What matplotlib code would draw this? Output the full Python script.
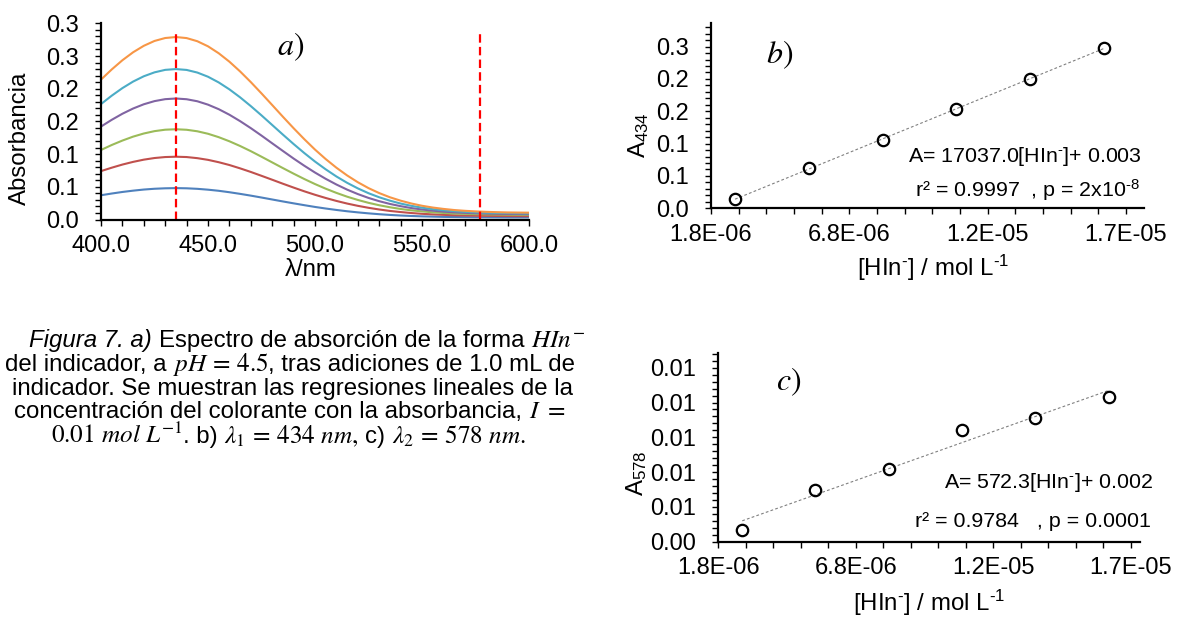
import numpy as np
import matplotlib
matplotlib.use("Agg")
import matplotlib.pyplot as plt
from matplotlib.ticker import FixedLocator, FixedFormatter

plt.rcParams['font.family'] = ['Liberation Sans', 'DejaVu Sans']
plt.rcParams['mathtext.fontset'] = 'custom'
plt.rcParams['mathtext.rm'] = 'Liberation Sans'
plt.rcParams['mathtext.it'] = 'Liberation Sans:italic'
plt.rcParams['mathtext.bf'] = 'Liberation Sans:bold'

# ---------------- data ----------------
wavelength = [400, 405, 410, 415, 420, 425, 430, 435, 440, 445, 450, 455, 460, 465,
              470, 475, 480, 485, 490, 495, 500, 505, 510, 515, 520, 525, 530, 535,
              540, 545, 550, 555, 560, 565, 570, 575, 580, 585, 590, 595, 600]
abs_1 = [0.0371, 0.0397, 0.0421, 0.0441, 0.0458, 0.0470, 0.0477, 0.0480, 0.0477, 0.0469,
         0.0456, 0.0439, 0.0417, 0.0392, 0.0365, 0.0336, 0.0306, 0.0276, 0.0247, 0.0219,
         0.0192, 0.0168, 0.0146, 0.0126, 0.0109, 0.0094, 0.0081, 0.0070, 0.0061, 0.0054,
         0.0048, 0.0044, 0.0040, 0.0038, 0.0036, 0.0034, 0.0033, 0.0032, 0.0031, 0.0031, 0.0031]
abs_2 = [0.0740, 0.0792, 0.0840, 0.0881, 0.0915, 0.0940, 0.0955, 0.0960, 0.0955, 0.0938,
         0.0912, 0.0876, 0.0833, 0.0782, 0.0727, 0.0668, 0.0608, 0.0547, 0.0488, 0.0431,
         0.0378, 0.0329, 0.0284, 0.0244, 0.0209, 0.0179, 0.0153, 0.0131, 0.0114, 0.0099,
         0.0087, 0.0078, 0.0071, 0.0065, 0.0061, 0.0058, 0.0056, 0.0054, 0.0053, 0.0052, 0.0051]
abs_3 = [0.1063, 0.1139, 0.1207, 0.1267, 0.1315, 0.1351, 0.1373, 0.1380, 0.1372, 0.1349,
         0.1311, 0.1259, 0.1196, 0.1124, 0.1045, 0.0960, 0.0873, 0.0786, 0.0701, 0.0619,
         0.0542, 0.0471, 0.0407, 0.0349, 0.0299, 0.0255, 0.0218, 0.0187, 0.0161, 0.0140,
         0.0124, 0.0110, 0.0100, 0.0092, 0.0086, 0.0082, 0.0078, 0.0076, 0.0074, 0.0073, 0.0072]
abs_4 = [0.1421, 0.1524, 0.1617, 0.1697, 0.1762, 0.1810, 0.1840, 0.1850, 0.1839, 0.1808,
         0.1756, 0.1687, 0.1602, 0.1504, 0.1397, 0.1283, 0.1165, 0.1048, 0.0932, 0.0822,
         0.0718, 0.0622, 0.0535, 0.0457, 0.0389, 0.0330, 0.0280, 0.0238, 0.0204, 0.0175,
         0.0153, 0.0135, 0.0121, 0.0110, 0.0102, 0.0096, 0.0091, 0.0088, 0.0085, 0.0084, 0.0082]
abs_5 = [0.1765, 0.1893, 0.2009, 0.2109, 0.2190, 0.2250, 0.2288, 0.2300, 0.2287, 0.2247,
         0.2183, 0.2096, 0.1990, 0.1868, 0.1734, 0.1592, 0.1445, 0.1298, 0.1154, 0.1016,
         0.0886, 0.0767, 0.0658, 0.0561, 0.0476, 0.0402, 0.0340, 0.0288, 0.0244, 0.0209,
         0.0181, 0.0158, 0.0141, 0.0127, 0.0117, 0.0109, 0.0104, 0.0100, 0.0097, 0.0095, 0.0093]
abs_6 = [0.2139, 0.2294, 0.2435, 0.2557, 0.2656, 0.2730, 0.2775, 0.2790, 0.2774, 0.2726,
         0.2648, 0.2542, 0.2413, 0.2264, 0.2101, 0.1928, 0.1750, 0.1571, 0.1396, 0.1228,
         0.1069, 0.0924, 0.0792, 0.0674, 0.0570, 0.0480, 0.0404, 0.0340, 0.0288, 0.0245,
         0.0210, 0.0183, 0.0162, 0.0145, 0.0133, 0.0124, 0.0117, 0.0112, 0.0108, 0.0106, 0.0104]
spectra = [abs_1, abs_2, abs_3, abs_4, abs_5, abs_6]
spectra_colors = ['#4F81BD', '#C0504D', '#9BBB59', '#8064A2', '#4BACC6', '#F79646']
marker_wavelengths = [435, 577]
marker_top = 0.29

conc = [2.67e-6, 5.33e-6, 8.00e-6, 10.67e-6, 13.33e-6, 16.00e-6]
A434 = [0.0464, 0.0939, 0.1377, 0.1856, 0.2315, 0.2805]
A578 = [0.0031, 0.0054, 0.0066, 0.0088, 0.0095, 0.0107]

a_xticks = [400, 450, 500, 550, 600]
a_xticklabels = ['400.0', '450.0', '500.0', '550.0', '600.0']
a_yticklabels = ['0.0', '0.1', '0.1', '0.2', '0.2', '0.3', '0.3']
conc_xticklabels = ['1.8E-06', '6.8E-06', '1.2E-05', '1.7E-05']
b_yticklabels = ['0.0', '0.1', '0.1', '0.2', '0.2', '0.3']
c_yticklabels = ['0.00', '0.01', '0.01', '0.01', '0.01', '0.01']

HY = '\u2010'  # short hyphen used in the superscripts
eq_b = ["A= 17037.0[HIn$^{" + HY + "}$]+ 0.003", "r\u00b2 = 0.9997  , p = 2x10$^{" + HY + "8}$"]
eq_c = ["A= 572.3[HIn$^{" + HY + "}$]+ 0.002", "r\u00b2 = 0.9784   , p = 0.0001"]
conc_xlabel = "[HIn$^{" + HY + "}$] / mol L$^{" + HY + "1}$"

# ---------------- layout ----------------
W, H = 1180, 618
fig = plt.figure(figsize=(W / 100, H / 100), dpi=100)
fig.patch.set_facecolor('white')


def fx(px):
    return px / W


def fy(py):
    return 1 - py / H


def axes_px(left, top, right, bottom):
    return fig.add_axes([fx(left), fy(bottom), (right - left) / W, (bottom - top) / H])


TICK_FS = 17
LABEL_FS = 17.3


def style_axes(ax):
    for s in ['top', 'right']:
        ax.spines[s].set_visible(False)
    for s in ['left', 'bottom']:
        ax.spines[s].set_linewidth(1.6)
        ax.spines[s].set_color('black')
    ax.tick_params(which='both', direction='out', length=4.2, width=1.0, color='black',
                   labelsize=TICK_FS)
    ax.tick_params(axis='x', which='both', pad=7.0)
    ax.tick_params(axis='y', which='both', pad=11.5)
    ax.set_facecolor('none')


# ---- panel a ----
axa = axes_px(101, 23.3, 529, 219.5)
style_axes(axa)
for ys, col in zip(spectra, spectra_colors):
    axa.plot(wavelength, ys, color=col, lw=1.5, solid_joinstyle='round')
for wl in marker_wavelengths:
    axa.plot([wl, wl], [0, marker_top], color='#FF0000', lw=1.6, dashes=(3.8, 1.9))
axa.set_xlim(400, 600)
axa.set_ylim(0, 0.3)
axa.xaxis.set_major_locator(FixedLocator(a_xticks))
axa.xaxis.set_major_formatter(FixedFormatter(a_xticklabels))
axa.xaxis.set_minor_locator(FixedLocator(np.arange(400, 601, 10)))
axa.yaxis.set_major_locator(FixedLocator(np.linspace(0, 0.3, 7)))
axa.yaxis.set_major_formatter(FixedFormatter(a_yticklabels))
axa.yaxis.set_minor_locator(FixedLocator(np.linspace(0, 0.3, 31)))
axa.set_xlabel('\u03bb/nm', fontsize=LABEL_FS)
axa.set_ylabel('Absorbancia', fontsize=LABEL_FS)
axa.xaxis.label.set(va='center', ha='center')
axa.yaxis.label.set(va='center', ha='center')
axa.xaxis.set_label_coords(0.49, -0.257)
axa.yaxis.set_label_coords(-0.189, 0.415)


def regression_axes(ax, x, y, ymin, ymax, ystep, yminor, ylabels, xmax):
    style_axes(ax)
    x = np.asarray(x)
    y = np.asarray(y)
    m, b = np.polyfit(x, y, 1)
    xx = np.array([x.min(), x.max()])
    ax.plot(xx, m * xx + b, color='#808080', lw=0.8, dashes=(2.5, 2.0), zorder=2)
    ax.plot(x, y, linestyle='none', marker='o', markersize=8.2, markeredgewidth=1.6,
            markerfacecolor='none', markeredgecolor='black', zorder=3, clip_on=False)
    ax.set_xlim(1.8e-6, xmax)
    ax.set_ylim(ymin, ymax)
    ax.xaxis.set_major_locator(FixedLocator([1.8e-6 + 5e-6 * k for k in range(4)]))
    ax.xaxis.set_major_formatter(FixedFormatter(conc_xticklabels))
    ax.xaxis.set_minor_locator(FixedLocator([1.8e-6 + 1e-6 * k for k in range(16)]))
    nmaj = len(ylabels)
    ax.yaxis.set_major_locator(FixedLocator([ymin + ystep * k for k in range(nmaj)]))
    ax.yaxis.set_major_formatter(FixedFormatter(ylabels))
    nmin = int(np.floor((ymax - ymin) / yminor + 1e-6)) + 1
    ax.yaxis.set_minor_locator(FixedLocator([ymin + yminor * k for k in range(nmin)]))


# ---- panel b ----
axb = axes_px(711, 22.7, 1144, 208.3)
regression_axes(axb, conc, A434, 0.032, 0.319, 0.05, 0.01, b_yticklabels, 17.45e-6)
axb.set_xlabel(conc_xlabel, fontsize=LABEL_FS)
axb.set_ylabel('A$_{434}$', fontsize=LABEL_FS)
axb.xaxis.label.set(va='center', ha='center')
axb.yaxis.label.set(va='center', ha='center')
axb.xaxis.set_label_coords(0.513, -0.319)
axb.yaxis.set_label_coords(-0.167, 0.395)

# ---- panel c ----
axc = axes_px(718.3, 353.3, 1140, 541.7)
regression_axes(axc, conc, A578, 0.0024, 0.01323, 0.002, 0.0004, c_yticklabels, 17.13e-6)
axc.set_xlabel(conc_xlabel, fontsize=LABEL_FS)
axc.set_ylabel('A$_{578}$', fontsize=LABEL_FS)
axc.xaxis.label.set(va='center', ha='center')
axc.yaxis.label.set(va='center', ha='center')
axc.xaxis.set_label_coords(0.4996, -0.323)
axc.yaxis.set_label_coords(-0.193, 0.363)

# ---- regression equations ----
EQ_FS = 15.4
fig.text(fx(1141.7), fy(161.7), eq_b[0], fontsize=EQ_FS, ha='right', va='baseline')
fig.text(fx(1140), fy(196.7), eq_b[1], fontsize=EQ_FS, ha='right', va='baseline')
fig.text(fx(1153), fy(488.3), eq_c[0], fontsize=EQ_FS, ha='right', va='baseline')
fig.text(fx(1151), fy(526.7), eq_c[1], fontsize=EQ_FS, ha='right', va='baseline')

# ---- panel letters ----
PL_FS = 23
fig.text(fx(291), fy(46.7), r'$a)$', math_fontfamily='stix', fontsize=PL_FS, ha='center', va='center')
fig.text(fx(779.4), fy(55), r'$b)$', math_fontfamily='stix', fontsize=PL_FS, ha='center', va='center')
fig.text(fx(788.7), fy(381.7), r'$c)$', math_fontfamily='stix', fontsize=PL_FS, ha='center', va='center')

# ---- caption ----
CAP_FS = 17.3
MATH_FS = CAP_FS * 1.05
caption_lines = [
    [("Figura 7. a)", 'it', False), ("Espectro de absorción de la forma", 'rm', True),
     (r"$HIn^{-}$", 'math', True)],
    [("del indicador, a", 'rm', False), (r"$pH\,=\,4.5$", 'math', True),
     (", tras adiciones de 1.0 mL de", 'rm', False)],
    [("indicador. Se muestran las regresiones lineales de la", 'rm', False)],
    [("concentración del colorante con la absorbancia,", 'rm', False), (r"$I\ =$", 'math', True)],
    [(r"$0.01\ mol\ L^{-1}$", 'math', False), (". b)", 'rm', False),
     (r"$\lambda_1\,=\,434\ nm,$", 'math', True), ("c)", 'rm', True),
     (r"$\lambda_2\,=\,578\ nm.$", 'math', True)],
]
caption_centers = [307, 290, 293, 290, 288.5]
caption_baselines = [346.7, 370.7, 395, 418.3, 443.3]

renderer = fig.canvas.get_renderer()
space_px = 0.278 * CAP_FS * 100 / 72
for segs, cx, by in zip(caption_lines, caption_centers, caption_baselines):
    texts = []
    for s, style, sp in segs:
        kw = dict(fontsize=CAP_FS, ha='left', va='baseline')
        if style == 'it':
            kw['fontstyle'] = 'italic'
        if style == 'math':
            kw['math_fontfamily'] = 'stix'
            kw['fontsize'] = MATH_FS
        t = fig.text(0, fy(by), s, **kw)
        texts.append((t, sp))
    widths = [t.get_window_extent(renderer).width for t, _ in texts]
    total = sum(widths) + sum(space_px for _, sp in texts if sp)
    x = cx - total / 2
    for (t, sp), w in zip(texts, widths):
        if sp:
            x += space_px
        t.set_x(fx(x))
        x += w

fig.savefig('out.png', dpi=100, facecolor='white')
